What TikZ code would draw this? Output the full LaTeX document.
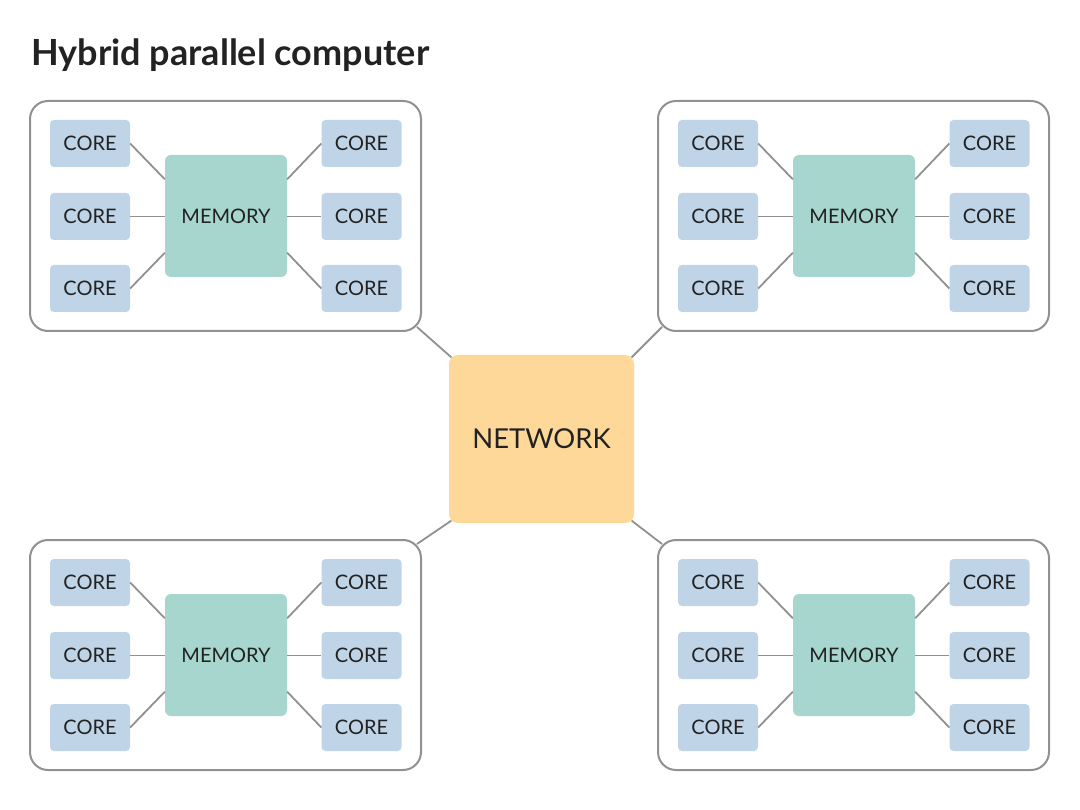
\documentclass[tikz,border=0pt]{standalone}
\usepackage{fontspec}
\setmainfont{Lato}
\usetikzlibrary{calc}
\definecolor{corefill}{RGB}{192,212,232}
\definecolor{memfill}{RGB}{166,214,206}
\definecolor{netfill}{RGB}{253,216,152}
\definecolor{linegray}{RGB}{145,145,148}
\definecolor{txt}{RGB}{34,34,34}
\tikzset{
  group/.style={draw=linegray, line width=2pt, fill=white, rounded corners=18pt,
    minimum width=391pt, minimum height=230pt, inner sep=0pt},
  corebox/.style={fill=corefill, rounded corners=4pt, minimum width=80pt,
    minimum height=47pt, inner sep=0pt, text=txt, font=\fontsize{20}{20}\selectfont},
  membox/.style={fill=memfill, rounded corners=6pt, minimum width=122pt,
    minimum height=122pt, inner sep=0pt, text=txt, font=\fontsize{20}{20}\selectfont},
  netbox/.style={fill=netfill, rounded corners=9pt, minimum width=185pt,
    minimum height=168pt, inner sep=0pt, text=txt, font=\fontsize{27.4}{27.4}\selectfont},
  link/.style={draw=linegray, line width=1.8pt}
}
\begin{document}
\begin{tikzpicture}[x=1pt,y=-1pt]
\useasboundingbox[fill=white] (0,0) rectangle (1080,810);
\node[anchor=base west, inner sep=0pt, text=txt, font=\bfseries\fontsize{36}{36}\selectfont] (title) at (31,66) {Hybrid parallel computer};
\node[netbox] (net) at (541.5,439) {NETWORK};
\foreach \n/\dx/\dy in {a/0/0, b/628/0, c/0/439, d/628/439} {
  \node[group] (\n) at (225.5+\dx,216+\dy) {};
  \node[membox] (\n-m) at (226+\dx,216+\dy) {MEMORY};
  \node[corebox] (\n-c1) at (90+\dx,143.5+\dy) {CORE};
  \node[corebox] (\n-c2) at (90+\dx,216.5+\dy) {CORE};
  \node[corebox] (\n-c3) at (90+\dx,288.5+\dy) {CORE};
  \node[corebox] (\n-c4) at (361.5+\dx,143.5+\dy) {CORE};
  \node[corebox] (\n-c5) at (361.5+\dx,216.5+\dy) {CORE};
  \node[corebox] (\n-c6) at (361.5+\dx,288.5+\dy) {CORE};
  \draw[link] (\n-c1.east) -- ($(\n-m.north west)!0.2!(\n-m.south west)$);
  \draw[link] (\n-c2.east) -- (\n-m.west |- \n-c2.east);
  \draw[link] (\n-c3.east) -- ($(\n-m.north west)!0.8!(\n-m.south west)$);
  \draw[link] (\n-c4.west) -- ($(\n-m.north east)!0.2!(\n-m.south east)$);
  \draw[link] (\n-c5.west) -- (\n-m.east |- \n-c5.west);
  \draw[link] (\n-c6.west) -- ($(\n-m.north east)!0.8!(\n-m.south east)$);
}
\draw[link] ($(a.south east)+(-5,-5)$) -- ($(net.north west)+(2.6,2.6)$);
\draw[link] ($(b.south west)+(5,-5)$) -- ($(net.north east)+(-2.6,2.6)$);
\draw[link] ($(c.north east)+(-5,5)$) -- ($(net.south west)+(2.6,-2.6)$);
\draw[link] ($(d.north west)+(5,5)$) -- ($(net.south east)+(-2.6,-2.6)$);
\end{tikzpicture}
\end{document}
